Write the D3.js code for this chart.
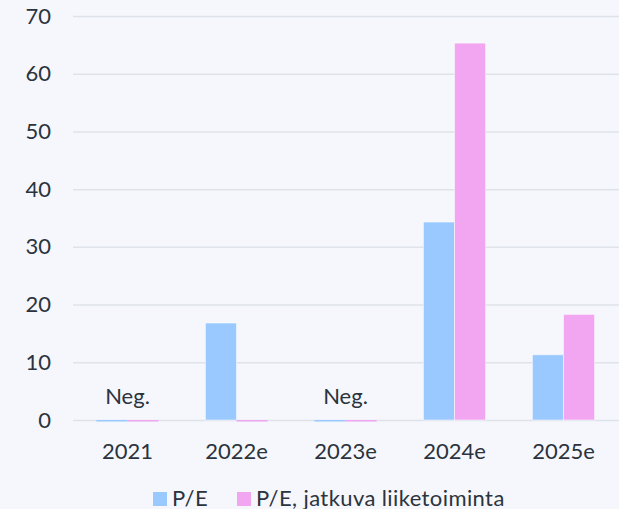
<!DOCTYPE html>
<html>
<head>
<meta charset="utf-8">
<script src="https://cdn.jsdelivr.net/npm/d3@7.9.0/dist/d3.min.js"></script>
<style>
  html, body { margin: 0; padding: 0; background: #f5f7fc; }
  svg { display: block; font-family: Lato, "Open Sans", sans-serif; }
  text { fill: #2b333d; }
</style>
</head>
<body>
<div id="chart"></div>
<script>
// categories and series (null = negative P/E, shown as "Neg.")
const years = ['2021', '2022e', '2023e', '2024e', '2025e'];
const seriesNames = ['P/E', 'P/E, jatkuva liiketoiminta'];
const peValues = [null, 16.8, null, 34.3, 11.3];
const peContinuing = [null, null, null, 65.3, 18.3];
const negLabels = ['Neg.', '', 'Neg.', '', ''];
const yTicks = [0, 10, 20, 30, 40, 50, 60, 70];
const colors = ['#99c9ff', '#f2a6f2'];

const width = 619;
const height = 509;
const margin = { top: 16, right: 1, bottom: 89, left: 73 };
const fontSize = '22px';

const svg = d3.select('#chart')
  .append('svg')
  .attr('width', width)
  .attr('height', height);

const x0 = d3.scaleBand()
  .domain(years)
  .range([margin.left, width - margin.right])
  .paddingInner(0.43)
  .paddingOuter(0.215);

const x1 = d3.scaleBand()
  .domain(seriesNames)
  .range([0, x0.bandwidth()]);

const y = d3.scaleLinear()
  .domain([0, 70])
  .range([height - margin.bottom, margin.top]);

// gridlines + y labels
const yAxis = svg.append('g')
  .attr('transform', `translate(${margin.left},0)`)
  .call(d3.axisLeft(y)
    .tickValues(yTicks)
    .tickSize(-(width - margin.left))
    .tickPadding(22));
yAxis.select('.domain').remove();
yAxis.selectAll('line').attr('stroke', '#dfe3e9').attr('stroke-width', 1.5);
yAxis.selectAll('text')
  .style('font-size', fontSize)
  .style('font-family', 'Lato, sans-serif')
  .attr('fill', '#2b333d');

const rows = years.map((year, i) => ({
  year,
  values: [peValues[i], peContinuing[i]],
  neg: negLabels[i],
}));

const groups = svg.append('g')
  .selectAll('g')
  .data(rows)
  .join('g')
  .attr('transform', (d) => `translate(${x0(d.year)},0)`);

groups.selectAll('rect')
  .data((d) => d.values.map((v, j) => ({ key: seriesNames[j], value: v, j })))
  .join('rect')
  .attr('x', (d) => x1(d.key))
  .attr('width', x1.bandwidth())
  .attr('y', (d) => (d.value == null ? y(0) : y(d.value)))
  .attr('height', (d) => (d.value == null ? 1.5 : y(0) - y(d.value)))
  .attr('fill', (d) => colors[d.j])
  .attr('stroke', 'rgba(255,255,255,0.5)')
  .attr('stroke-width', (d) => (d.value == null ? 0 : 1));

// "Neg." labels
groups.append('text')
  .attr('x', x0.bandwidth() / 2)
  .attr('y', y(0) - 16)
  .attr('text-anchor', 'middle')
  .style('font-size', fontSize)
  .text((d) => d.neg);

// x labels
const xAxis = svg.append('g')
  .attr('transform', `translate(0,${y(0)})`)
  .call(d3.axisBottom(x0).tickSize(0).tickPadding(23));
xAxis.select('.domain').remove();
xAxis.selectAll('text')
  .style('font-size', fontSize)
  .style('font-family', 'Lato, sans-serif')
  .attr('fill', '#2b333d');

// legend
const legendX = [153, 237];
const legend = svg.append('g')
  .selectAll('g')
  .data(seriesNames)
  .join('g')
  .attr('transform', (d, i) => `translate(${legendX[i]},492)`);

legend.append('rect')
  .attr('width', 14)
  .attr('height', 14)
  .attr('fill', (d, i) => colors[i]);

legend.append('text')
  .attr('x', 19)
  .attr('y', 13.5)
  .style('font-size', fontSize)
  .style('letter-spacing', '0.4px')
  .text((d) => d);
</script>
</body>
</html>
